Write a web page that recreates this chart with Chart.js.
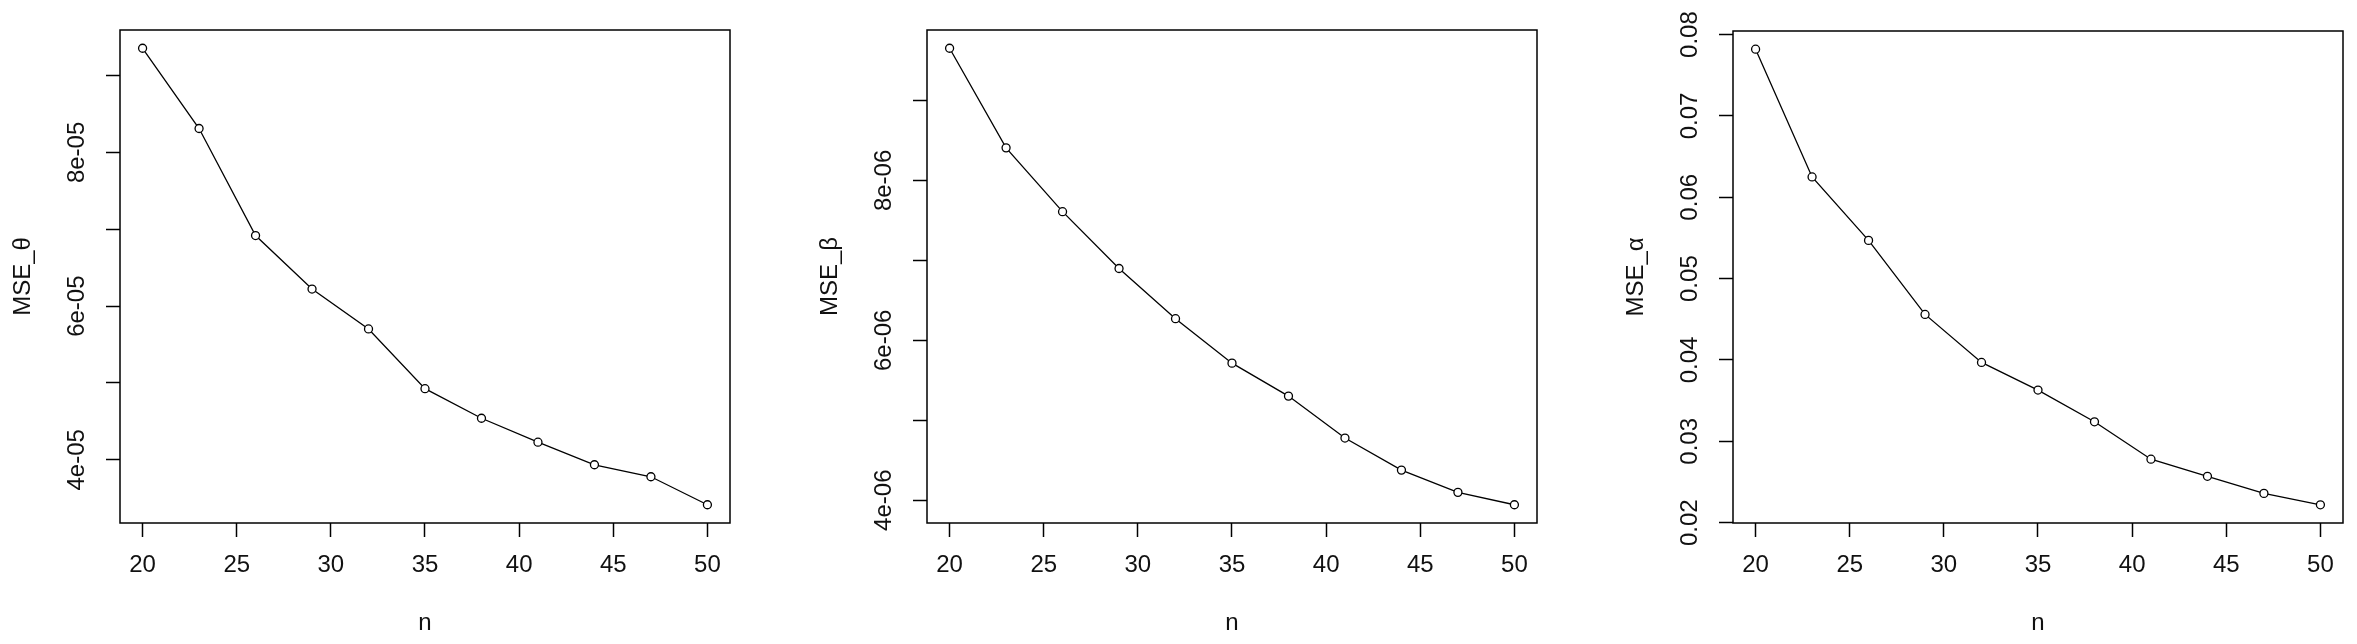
<!DOCTYPE html>
<html>
<head>
<meta charset="utf-8">
<script src="https://cdn.jsdelivr.net/npm/chart.js@4.4.1/dist/chart.umd.min.js"></script>
<style>
  html, body { margin: 0; padding: 0; background: #ffffff; }
  body { width: 2357px; height: 644px; position: relative; overflow: hidden; }
  canvas { position: absolute; top: 0; }
</style>
</head>
<body>
<canvas id="c1" width="760" height="644" style="left:0px"></canvas>
<canvas id="c2" width="760" height="644" style="left:807px"></canvas>
<canvas id="c3" width="744" height="644" style="left:1613px"></canvas>
<script>
// ---- data ----
const nValues = [20, 23, 26, 29, 32, 35, 38, 41, 44, 47, 50];
const mseTheta = [9.355e-5, 8.311e-5, 6.918e-5, 6.222e-5, 5.703e-5, 4.926e-5, 4.541e-5, 4.230e-5, 3.936e-5, 3.780e-5, 3.416e-5];
const mseBeta = [9.653e-6, 8.407e-6, 7.609e-6, 6.898e-6, 6.270e-6, 5.714e-6, 5.302e-6, 4.777e-6, 4.376e-6, 4.098e-6, 3.943e-6];
const mseAlpha = [0.0782, 0.0625, 0.0547, 0.0456, 0.0397, 0.0363, 0.0324, 0.0278, 0.0257, 0.0236, 0.0222];

// ---- tick values and labels ----
const xTicks = [20, 25, 30, 35, 40, 45, 50];
const xTickLabels = ['20', '25', '30', '35', '40', '45', '50'];
const yTicksTheta = [4e-5, 5e-5, 6e-5, 7e-5, 8e-5, 9e-5];
const yLabelsTheta = ['4e-05', '', '6e-05', '', '8e-05', ''];
const yTicksBeta = [4e-6, 5e-6, 6e-6, 7e-6, 8e-6, 9e-6];
const yLabelsBeta = ['4e-06', '', '6e-06', '', '8e-06', ''];
const yTicksAlpha = [0.02, 0.03, 0.04, 0.05, 0.06, 0.07, 0.08];
const yLabelsAlpha = ['0.02', '0.03', '0.04', '0.05', '0.06', '0.07', '0.08'];

// ---- titles ----
const xTitle = 'n';
const yTitleTheta = 'MSE_θ';
const yTitleBeta = 'MSE_β';
const yTitleAlpha = 'MSE_α';

const FONT_FAMILY = "'Liberation Sans', Arial, 'DejaVu Sans', sans-serif";
const FONT_SIZE = 24;
const TEXT_COLOR = '#111111';

// R-style 4% range extension
function extRange(vals) {
  const mn = Math.min(...vals), mx = Math.max(...vals);
  const p = (mx - mn) * 0.04;
  return [mn - p, mx + p];
}

function makeChart(id, yVals, yTicks, yLabels, yTitle, topPad) {
  const canvas = document.getElementById(id);
  const xr = extRange(nValues);
  const yr = extRange(yVals);
  const rightEdge = 730; // chart area right within canvas
  const points = nValues.map((n, i) => ({ x: n, y: yVals[i] }));

  const boxAndLabels = {
    id: 'boxAndLabels' + id,
    afterDraw(chart) {
      const ctx = chart.ctx;
      const a = chart.chartArea;
      ctx.save();
      ctx.strokeStyle = '#000';
      ctx.lineWidth = 1.5;
      ctx.strokeRect(a.left, a.top, a.right - a.left, a.bottom - a.top);
      // rotated y tick labels, positioned via the y scale
      const s = chart.scales.y;
      ctx.fillStyle = TEXT_COLOR;
      ctx.font = FONT_SIZE + 'px ' + FONT_FAMILY;
      ctx.textAlign = 'center';
      ctx.textBaseline = 'middle';
      s.ticks.forEach((t, i) => {
        const lbl = yLabels[i];
        if (!lbl) return;
        const py = s.getPixelForValue(t.value);
        ctx.save();
        ctx.translate(a.left - 43, py);
        ctx.rotate(-Math.PI / 2);
        ctx.fillText(lbl, 0, 0);
        ctx.restore();
      });
      ctx.restore();
    }
  };

  const font = { family: FONT_FAMILY, size: FONT_SIZE, lineHeight: 1 };
  const gridCfg = {
    drawOnChartArea: false,
    drawTicks: true,
    tickLength: 14,
    tickWidth: 1.5,
    tickColor: '#000'
  };

  return new Chart(canvas, {
    type: 'line',
    data: {
      datasets: [{
        data: points,
        borderColor: '#000',
        borderWidth: 1.3,
        pointRadius: 4,
        pointBorderWidth: 1.3,
        pointBorderColor: '#000',
        pointBackgroundColor: '#fff',
        tension: 0,
        fill: false
      }]
    },
    options: {
      responsive: false,
      animation: false,
      devicePixelRatio: 1,
      layout: { padding: { top: topPad, right: canvas.width - rightEdge, left: 0, bottom: 0 } },
      plugins: { legend: { display: false }, tooltip: { enabled: false } },
      scales: {
        x: {
          type: 'linear',
          min: xr[0],
          max: xr[1],
          afterBuildTicks: s => { s.ticks = xTicks.map(v => ({ value: v })); },
          ticks: {
            font: font,
            color: TEXT_COLOR,
            padding: 16,
            maxRotation: 0,
            autoSkip: false,
            callback: (v) => { const k = xTicks.indexOf(v); return k >= 0 ? xTickLabels[k] : ''; }
          },
          grid: gridCfg,
          border: { display: false },
          title: { display: true, text: xTitle, font: font, color: TEXT_COLOR, padding: { top: 0, bottom: 9 } },
          afterFit: s => { s.height = 121; }
        },
        y: {
          type: 'linear',
          min: yr[0],
          max: yr[1],
          afterBuildTicks: s => { s.ticks = yTicks.map(v => ({ value: v })); },
          ticks: { display: false },
          grid: gridCfg,
          border: { display: false },
          title: { display: true, text: yTitle, font: font, color: TEXT_COLOR, padding: { top: 11, bottom: 0 } },
          afterFit: s => { s.width = 120; }
        }
      }
    },
    plugins: [boxAndLabels]
  });
}

makeChart('c1', mseTheta, yTicksTheta, yLabelsTheta, yTitleTheta, 30);
makeChart('c2', mseBeta, yTicksBeta, yLabelsBeta, yTitleBeta, 30);
makeChart('c3', mseAlpha, yTicksAlpha, yLabelsAlpha, yTitleAlpha, 31);
</script>
</body>
</html>
